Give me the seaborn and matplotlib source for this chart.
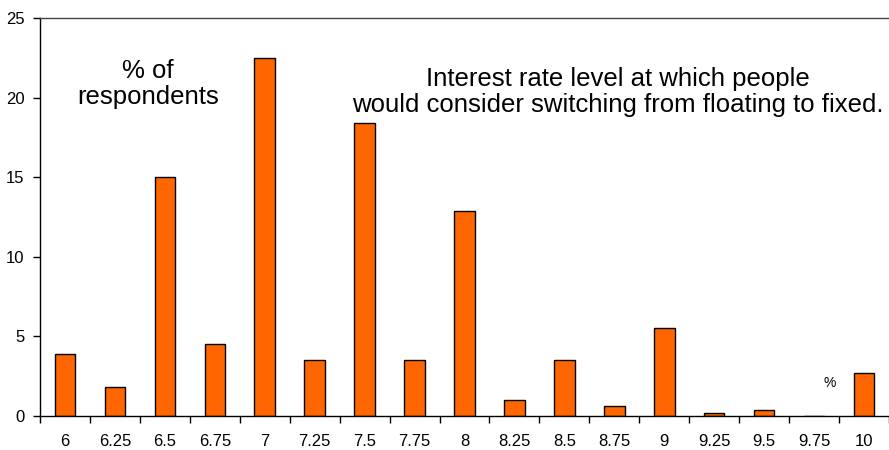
import matplotlib
matplotlib.use("Agg")
import matplotlib.pyplot as plt
import seaborn as sns
import pandas as pd
from matplotlib.ticker import FixedLocator

# Interest rate levels (%) and share of respondents choosing each
rates = ["6", "6.25", "6.5", "6.75", "7", "7.25", "7.5", "7.75", "8",
         "8.25", "8.5", "8.75", "9", "9.25", "9.5", "9.75", "10"]
respondents = [3.9, 1.8, 15.0, 4.5, 22.5, 3.5, 18.4, 3.5, 12.9,
               1.0, 3.5, 0.6, 5.5, 0.2, 0.4, 0.0, 2.7]
y_ticks = [0, 5, 10, 15, 20, 25]

df = pd.DataFrame({"rate": rates, "pct": respondents})

sns.set_style("white")
plt.rcParams["font.family"] = ["Liberation Sans", "DejaVu Sans"]
plt.rcParams["text.color"] = "black"
plt.rcParams["xtick.color"] = "black"
plt.rcParams["ytick.color"] = "black"

fig = plt.figure(figsize=(8.89, 4.5), dpi=100)
ax = fig.add_axes([40 / 889, 34 / 450, 849 / 889, 398 / 450])

sns.barplot(data=df, x="rate", y="pct", order=rates, color="#FF6600",
            saturation=1, width=0.41, edgecolor="black", linewidth=1,
            ax=ax)

ax.set_xlim(-0.5, len(rates) - 0.5)
ax.set_ylim(0, 25)
ax.set_yticks(y_ticks)
ax.set_xlabel("")
ax.set_ylabel("")

# Category labels centred under bars, tick marks on category boundaries
ax.xaxis.set_minor_locator(FixedLocator([i + 0.5 for i in range(-1, len(rates))]))
ax.tick_params(axis="x", which="major", length=0, pad=13, labelsize=12)
ax.tick_params(axis="x", which="minor", length=5, width=1, color="black",
               direction="out", bottom=True)
ax.tick_params(axis="y", which="major", length=5, width=1, color="black",
               direction="out", left=True, pad=6, labelsize=12)

for side in ["left", "bottom", "top"]:
    ax.spines[side].set_visible(True)
    ax.spines[side].set_color("black")
    ax.spines[side].set_linewidth(1)
ax.spines["top"].set_color("#444444")
ax.spines["right"].set_visible(False)

ax.text(0.127, 0.834, "% of\nrespondents", transform=ax.transAxes,
        ha="center", va="center", fontsize=18.5, linespacing=1.15)
ax.text(0.681, 0.814,
        "Interest rate level at which people\nwould consider switching from floating to fixed.",
        transform=ax.transAxes, ha="center", va="center", fontsize=18.5,
        linespacing=1.15)
ax.text(0.930, 0.083, "%", transform=ax.transAxes, ha="center",
        va="center", fontsize=10)

fig.savefig("out.png", dpi=100)
